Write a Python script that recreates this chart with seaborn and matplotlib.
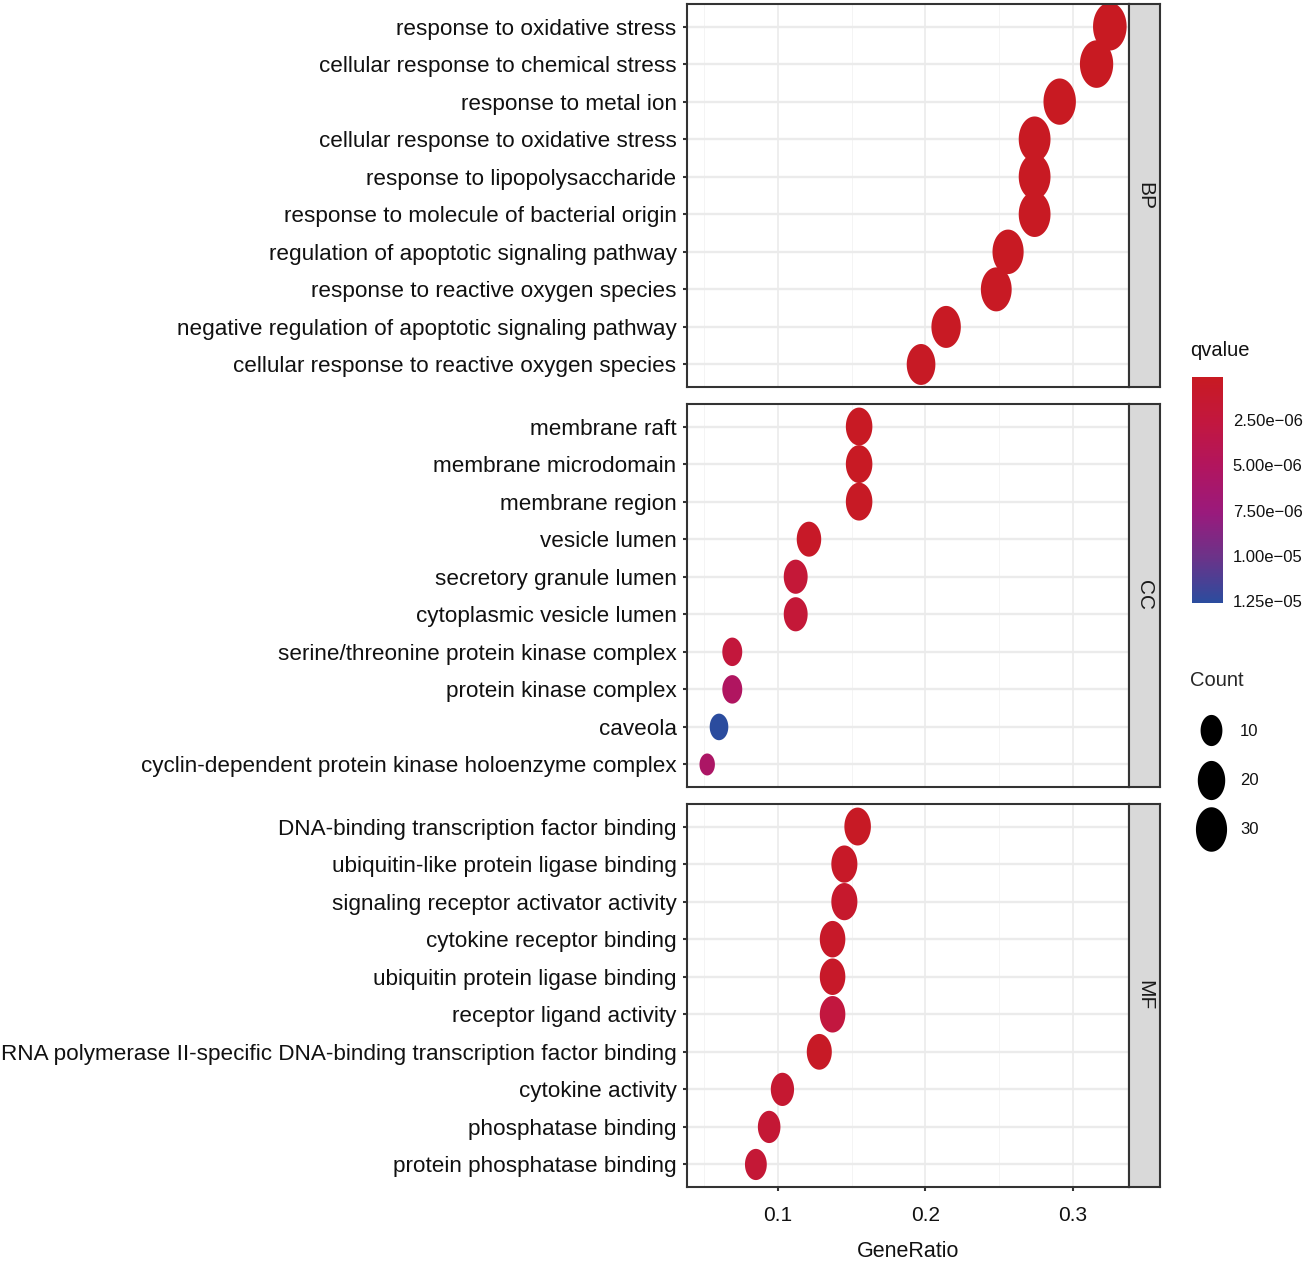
import numpy as np
import pandas as pd
import matplotlib
matplotlib.use("Agg")
import matplotlib.pyplot as plt
import seaborn as sns
from matplotlib.path import Path
from matplotlib.markers import MarkerStyle
from matplotlib.colors import LinearSegmentedColormap, Normalize
from matplotlib.cm import ScalarMappable
from matplotlib.lines import Line2D

sns.set_theme(style="white")
plt.rcParams["font.family"] = ["Liberation Sans", "DejaVu Sans"]

# ---------------- data ----------------
ontologies = ["BP", "CC", "MF"]

bp_terms = [
    "response to oxidative stress",
    "cellular response to chemical stress",
    "response to metal ion",
    "cellular response to oxidative stress",
    "response to lipopolysaccharide",
    "response to molecule of bacterial origin",
    "regulation of apoptotic signaling pathway",
    "response to reactive oxygen species",
    "negative regulation of apoptotic signaling pathway",
    "cellular response to reactive oxygen species",
]
bp_ratio = [0.325, 0.316, 0.291, 0.274, 0.274, 0.274, 0.256, 0.248, 0.214, 0.197]
bp_count = [38, 37, 34, 32, 32, 32, 30, 29, 25, 23]
bp_qvalue = [1.1e-7, 1.2e-7, 1.5e-7, 1.8e-7, 2.0e-7, 2.2e-7, 2.5e-7, 3.0e-7, 3.5e-7, 4.0e-7]

cc_terms = [
    "membrane raft",
    "membrane microdomain",
    "membrane region",
    "vesicle lumen",
    "secretory granule lumen",
    "cytoplasmic vesicle lumen",
    "serine/threonine protein kinase complex",
    "protein kinase complex",
    "caveola",
    "cyclin-dependent protein kinase holoenzyme complex",
]
cc_ratio = [0.155, 0.155, 0.155, 0.121, 0.112, 0.112, 0.069, 0.069, 0.060, 0.052]
cc_count = [18, 18, 18, 14, 13, 13, 8, 8, 7, 6]
cc_qvalue = [3.0e-7, 3.0e-7, 3.6e-7, 6.0e-7, 2.0e-6, 2.0e-6, 2.4e-6, 5.2e-6, 1.26e-5, 5.6e-6]

mf_terms = [
    "DNA-binding transcription factor binding",
    "ubiquitin-like protein ligase binding",
    "signaling receptor activator activity",
    "cytokine receptor binding",
    "ubiquitin protein ligase binding",
    "receptor ligand activity",
    "RNA polymerase II-specific DNA-binding transcription factor binding",
    "cytokine activity",
    "phosphatase binding",
    "protein phosphatase binding",
]
mf_ratio = [0.154, 0.145, 0.145, 0.137, 0.137, 0.137, 0.128, 0.103, 0.094, 0.085]
mf_count = [18, 17, 17, 16, 16, 16, 15, 12, 11, 10]
mf_qvalue = [4.0e-7, 6.0e-7, 1.1e-6, 7.0e-7, 7.0e-7, 2.6e-6, 5.0e-7, 1.4e-6, 1.8e-6, 1.9e-6]

x_ticks = [0.1, 0.2, 0.3]
x_minor = [0.05, 0.15, 0.25]
q_ticks = [2.5e-6, 5.0e-6, 7.5e-6, 1.0e-5, 1.25e-5]
q_tick_labels = ["2.50e\u221206", "5.00e\u221206", "7.50e\u221206", "1.00e\u221205", "1.25e\u221205"]
count_legend = [10, 20, 30]

frames = []
for ont, terms, ratio, count, q in [
    ("BP", bp_terms, bp_ratio, bp_count, bp_qvalue),
    ("CC", cc_terms, cc_ratio, cc_count, cc_qvalue),
    ("MF", mf_terms, mf_ratio, mf_count, mf_qvalue),
]:
    frames.append(pd.DataFrame({"ONTOLOGY": ont, "Description": terms,
                                "GeneRatio": ratio, "Count": count, "qvalue": q}))
df = pd.concat(frames, ignore_index=True)

# ---------------- styles ----------------
W, H = 1306, 1265
fig = plt.figure(figsize=(W / 100, H / 100), dpi=100)

cmap = LinearSegmentedColormap.from_list(
    "q", [(0.0, "#C81A22"), (0.2, "#C2173F"), (0.4, "#B1155F"),
          (0.6, "#9A1A7C"), (0.8, "#6B3389"), (1.0, "#2B4C9E")])
norm = Normalize(vmin=df["qvalue"].min(), vmax=df["qvalue"].max())

t = np.linspace(0, 2 * np.pi, 73)
ell_path = Path(np.column_stack([0.35 * np.cos(t), 0.5 * np.sin(t)]), closed=True)
ell_marker = MarkerStyle(ell_path)

cmin, cmax = df["Count"].min(), df["Count"].max()


def dot_diam_pt(c):
    d_px = 22 + 26 * np.sqrt((c - cmin) / (cmax - cmin))
    return d_px * 0.72


size_map = {c: dot_diam_pt(c) ** 2 for c in sorted(df["Count"].unique())}

L, R, S = 687, 1129, 1160
PH = 383
tops = [4, 404, 804]
xlim = (0.0383, 0.338)
dark = "#333333"
txt = "#111111"
lab_fs = 16.2

for i, ont in enumerate(ontologies):
    sub = df[df["ONTOLOGY"] == ont]
    top = tops[i]
    ax = fig.add_axes([L / W, 1 - (top + PH) / H, (R - L) / W, PH / H])
    ax.set_axisbelow(True)
    sns.scatterplot(data=sub, x="GeneRatio", y="Description", hue="qvalue",
                    size="Count", palette=cmap, hue_norm=norm, sizes=size_map,
                    marker=ell_marker, linewidth=0, legend=False, ax=ax)
    ax.set_xticks(x_ticks)
    ax.set_xticks(x_minor, minor=True)
    ax.set_xticklabels([f"{v:g}" for v in x_ticks])
    ax.set_xlim(*xlim)
    ax.set_ylim(len(sub) - 0.4, -0.6)
    ax.yaxis.grid(True, color="#EBEBEB", lw=1.7)
    ax.xaxis.grid(True, which="major", color="#EBEBEB", lw=1.2)
    ax.xaxis.grid(True, which="minor", color="#F4F4F4", lw=0.7)
    for sp in ax.spines.values():
        sp.set_color(dark)
        sp.set_linewidth(1.5)
    ax.tick_params(axis="y", length=3, width=1.5, color=dark, pad=4.5,
                   labelsize=lab_fs, labelcolor=txt, left=True)
    ax.tick_params(axis="x", which="minor", length=0)
    ax.set_ylabel("")
    if i < 2:
        ax.tick_params(axis="x", which="major", length=0, labelbottom=False)
        ax.set_xlabel("")
    else:
        ax.tick_params(axis="x", which="major", length=3, width=1.5, color=dark,
                       pad=11, labelsize=15, labelcolor=txt, bottom=True)
        ax.set_xlabel("GeneRatio", fontsize=15.5, color=txt, labelpad=11)

    sax = fig.add_axes([R / W, 1 - (top + PH) / H, (S - R) / W, PH / H])
    sax.set_facecolor("#D9D9D9")
    sax.set_xticks([])
    sax.set_yticks([])
    for sp in sax.spines.values():
        sp.set_color(dark)
        sp.set_linewidth(1.5)
    sax.text(0.5, 0.5, ont, rotation=-90, ha="center", va="center",
             fontsize=15, color="#1A1A1A", transform=sax.transAxes)

# ---------------- qvalue colour bar ----------------
fig.text(1190 / W, 1 - 351 / H, "qvalue", fontsize=14.5, color=txt,
         ha="left", va="center")
cax = fig.add_axes([1192 / W, 1 - 603 / H, 31 / W, 226 / H])
sm = ScalarMappable(norm=norm, cmap=cmap)
cb = fig.colorbar(sm, cax=cax)
cb.outline.set_visible(False)
cax.invert_yaxis()
cb.set_ticks(q_ticks)
cb.set_ticklabels(q_tick_labels)
cax.tick_params(axis="y", direction="in", length=5, width=1, color="white",
                left=True, right=True, labelleft=False, labelright=True,
                labelsize=12, labelcolor=txt, pad=7)

# ---------------- Count legend ----------------
handles = [Line2D([], [], linestyle="", marker=ell_marker, markersize=dot_diam_pt(c),
                  markerfacecolor="black", markeredgewidth=0, color="black")
           for c in count_legend]
leg = fig.legend(handles, [str(c) for c in count_legend], title="Count",
                 loc="upper left", bbox_to_anchor=(1198 / W, 1 - 671 / H),
                 frameon=False, fontsize=12, title_fontsize=14.5,
                 handlelength=1.6, handletextpad=0.93, labelspacing=2.05,
                 borderpad=0, borderaxespad=0, alignment="left")
leg._legend_box.set_offset  # keep default layout
for t_ in leg.get_texts():
    t_.set_color(txt)
leg.get_title().set_position((-8, 0))

fig.savefig("out.png", dpi=100)
